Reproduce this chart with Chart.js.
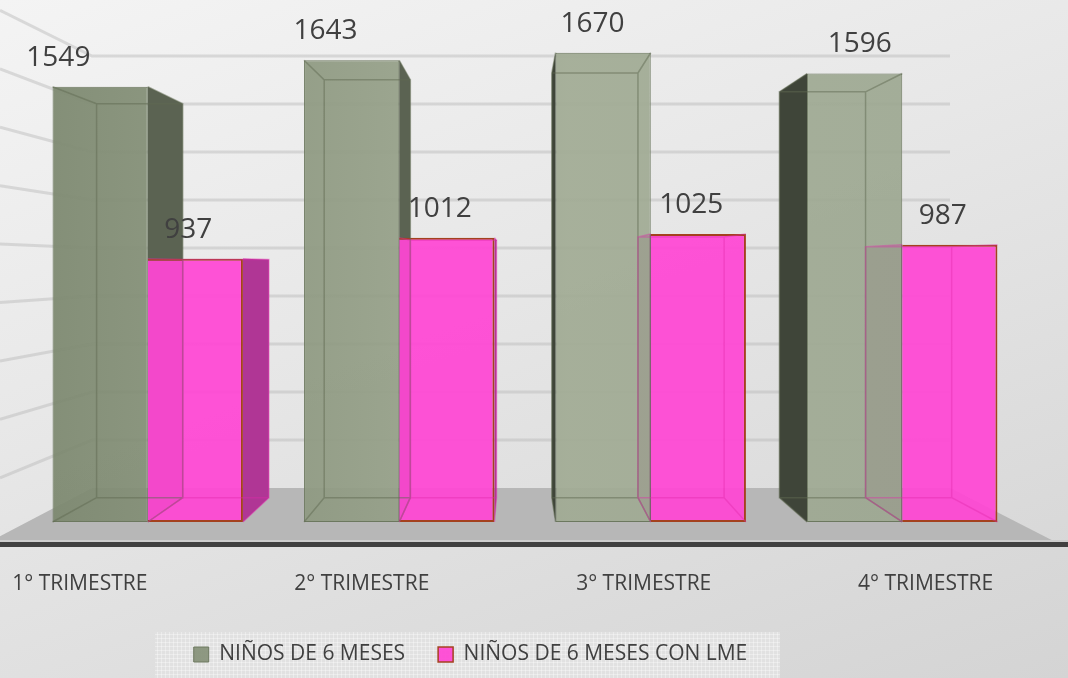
<!DOCTYPE html>
<html>
<head>
<meta charset="utf-8">
<script src="https://cdn.jsdelivr.net/npm/chart.js@4.4.0/dist/chart.umd.min.js"></script>
<style>
  html, body { margin: 0; padding: 0; }
  body {
    width: 1068px; height: 678px; overflow: hidden;
    background: linear-gradient(160deg, #f4f4f4 0%, #e8e8e8 40%, #d4d4d4 100%);
  }
  canvas { display: block; }
</style>
</head>
<body>
<canvas id="chart" width="1068" height="678"></canvas>
<script>
// data
const categories = ['1° TRIMESTRE', '2° TRIMESTRE', '3° TRIMESTRE', '4° TRIMESTRE'];
const seriesNames = ['NIÑOS DE 6 MESES', 'NIÑOS DE 6 MESES CON LME'];
const ninos6Meses = [1549, 1643, 1670, 1596];
const ninosConLme = [937, 1012, 1025, 987];
const wallTicks = [200, 400, 600, 800, 1000, 1200, 1400, 1600, 1800];

// fake 3D look (perspective towards a vanishing point)
const VP = { x: 516, y: 266 };
const DEPTH = 0.905;
const WALL_L = 92, WALL_R = 950;
const LABEL_SHIFT = [[0.062, -16], [0, -7]]; // x shift of value labels per series

function proj(px, py) {
  return [VP.x + (px - VP.x) * DEPTH, VP.y + (py - VP.y) * DEPTH];
}

function barBox(bar) {
  const p = bar.getProps(['x', 'y', 'base', 'width'], true);
  const l = p.x - p.width / 2, r = p.x + p.width / 2;
  const t = Math.min(p.y, p.base), b = Math.max(p.y, p.base);
  return { x: p.x, l, r, t, b };
}

const stage = {
  id: 'stage',
  afterLayout(chart) {
    // legend panel sits left of centre in the original
    const lg = chart.legend;
    lg.left = 155; lg.right = 786; lg.width = 631;
  },
  beforeDraw(chart) {
    const { ctx, legend: lg } = chart;
    const pad = lg.options.labels.padding;
    const top = lg.top + pad - 12;
    ctx.save();
    ctx.fillStyle = '#e1e1e1';
    ctx.fillRect(lg.left, top, lg.width - 6, chart.height - top);
    ctx.strokeStyle = 'rgba(255,255,255,0.35)';
    ctx.lineWidth = 1;
    ctx.beginPath();
    for (let x = lg.left + 2; x < lg.right - 6; x += 4) { ctx.moveTo(x + 0.5, top); ctx.lineTo(x + 0.5, chart.height); }
    for (let y = top + 2; y < chart.height; y += 4) { ctx.moveTo(lg.left, y + 0.5); ctx.lineTo(lg.right - 6, y + 0.5); }
    ctx.stroke();
    ctx.restore();
  },
  beforeDatasetsDraw(chart) {
    const { ctx, chartArea: ca } = chart;
    const yw = chart.scales.yw;
    const floorTop = yw.getPixelForValue(0);
    const floorBottom = ca.bottom - 4;
    ctx.save();

    // floor
    const slopeL = (floorTop - VP.y) / (VP.x - WALL_L);
    const slopeR = (floorTop - VP.y) / (WALL_R - VP.x);
    ctx.fillStyle = '#b7b7b7';
    ctx.beginPath();
    ctx.moveTo(WALL_L, floorTop);
    ctx.lineTo(WALL_R, floorTop);
    ctx.lineTo(WALL_R + (floorBottom - floorTop) / slopeR, floorBottom);
    ctx.lineTo(0, floorBottom);
    ctx.lineTo(0, floorTop + WALL_L * slopeL);
    ctx.closePath();
    ctx.fill();
    ctx.fillStyle = '#cdcdcd';
    ctx.fillRect(0, floorBottom, chart.width, 2);
    ctx.fillStyle = '#404040';
    ctx.fillRect(0, ca.bottom - 2, chart.width, 5);

    // back wall + left wall grid lines
    ctx.strokeStyle = 'rgba(185,185,185,0.45)';
    ctx.lineWidth = 3;
    const k = VP.x / (VP.x - WALL_L);
    wallTicks.forEach(v => {
      const y = yw.getPixelForValue(v);
      ctx.beginPath();
      ctx.moveTo(0, VP.y + (y - VP.y) * k);
      ctx.lineTo(WALL_L, y);
      ctx.lineTo(WALL_R, y);
      ctx.stroke();
    });

    // side faces of the boxes
    chart.data.datasets.forEach((ds, di) => {
      chart.getDatasetMeta(di).data.forEach(bar => {
        const bx = barBox(bar);
        const right = bx.r < VP.x;
        const ex = right ? bx.r : bx.l;
        const [px, pt] = proj(ex, bx.t);
        const [, pb] = proj(ex, bx.b);
        ctx.beginPath();
        ctx.moveTo(ex, bx.t); ctx.lineTo(px, pt); ctx.lineTo(px, pb); ctx.lineTo(ex, bx.b);
        ctx.closePath();
        ctx.fillStyle = ds.faceColor;
        ctx.fill();
        ctx.fillStyle = right ? 'rgba(0,0,0,0.28)' : 'rgba(0,0,0,0.5)';
        ctx.fill();
      });
    });
    ctx.restore();
  },
  afterDatasetsDraw(chart) {
    const ctx = chart.ctx;
    ctx.save();
    chart.data.datasets.forEach((ds, di) => {
      chart.getDatasetMeta(di).data.forEach((bar, i) => {
        const bx = barBox(bar);
        const [bl, bt] = proj(bx.l, bx.t);
        const [br, bb] = proj(bx.r, bx.b);
        ctx.strokeStyle = ds.edgeColor;
        ctx.lineWidth = 1.5;
        ctx.beginPath();
        ctx.rect(bl, bt, br - bl, bb - bt);
        ctx.moveTo(bx.l, bx.t); ctx.lineTo(bl, bt);
        ctx.moveTo(bx.r, bx.t); ctx.lineTo(br, bt);
        ctx.moveTo(bx.l, bx.b); ctx.lineTo(bl, bb);
        ctx.moveTo(bx.r, bx.b); ctx.lineTo(br, bb);
        ctx.stroke();

        const [sk, sc] = LABEL_SHIFT[di];
        ctx.fillStyle = '#404040';
        ctx.font = '28px "Open Sans"';
        ctx.textAlign = 'center';
        ctx.textBaseline = 'middle';
        ctx.fillText(String(ds.data[i]), bx.x + sk * (bx.x - VP.x) + sc, bx.t - 29);
      });
    });
    ctx.restore();
  }
};

Chart.defaults.font.family = '"Open Sans", sans-serif';
Chart.defaults.color = '#404040';

const ctx = document.getElementById('chart').getContext('2d');
const greenFill = ctx.createLinearGradient(40, 0, 1000, 0);
greenFill.addColorStop(0, 'rgba(123,135,110,0.93)');
greenFill.addColorStop(0.55, 'rgba(161,171,148,0.93)');
greenFill.addColorStop(1, 'rgba(156,167,145,0.93)');

new Chart(ctx, {
  type: 'bar',
  data: {
    labels: categories,
    datasets: [{
      label: seriesNames[0],
      data: ninos6Meses,
      backgroundColor: greenFill,
      borderColor: '#6c785f',
      borderWidth: 1,
      borderSkipped: false,
      faceColor: '#7e8a72',
      edgeColor: 'rgba(95,105,82,0.5)',
      barPercentage: 1,
      categoryPercentage: 0.757
    }, {
      label: seriesNames[1],
      data: ninosConLme,
      backgroundColor: 'rgba(255,70,212,0.93)',
      borderColor: '#a4411e',
      borderWidth: { top: 2, right: 2, bottom: 2, left: 0 },
      borderSkipped: false,
      faceColor: '#f44ccf',
      edgeColor: 'rgba(225,40,170,0.4)',
      barPercentage: 1,
      categoryPercentage: 0.757
    }]
  },
  options: {
    responsive: false,
    animation: false,
    layout: { padding: { left: 22, right: 40, top: 20, bottom: 3 } },
    plugins: {
      tooltip: { enabled: false },
      legend: {
        position: 'bottom',
        labels: {
          boxWidth: 15,
          boxHeight: 15,
          padding: 33,
          color: '#404040',
          font: { size: 21 }
        }
      }
    },
    scales: {
      x: { display: false },
      xl: {
        type: 'linear',
        position: 'bottom',
        offset: false,
        min: -0.205,
        max: 3.363,
        grid: { display: false },
        border: { display: false },
        afterBuildTicks: s => { s.ticks = categories.map((c, i) => ({ value: i })); },
        afterFit: s => { s.height = 67; s.paddingLeft = 0; s.paddingRight = 0; },
        ticks: {
          padding: 19,
          font: { size: 21 },
          color: '#404040',
          callback: v => categories[v]
        }
      },
      y: { display: false, min: -78.3, max: 1786.5 },
      yw: { display: false, position: 'left', min: -233.3, max: 1950 }
    }
  },
  plugins: [stage]
});
</script>
</body>
</html>
